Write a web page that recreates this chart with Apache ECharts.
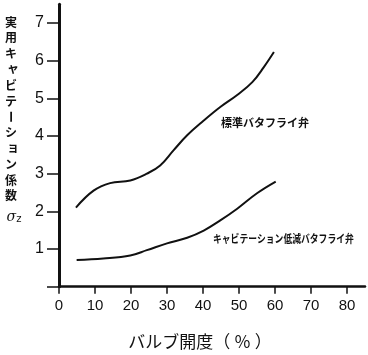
<!DOCTYPE html>
<html><head><meta charset="utf-8">
<script src="https://cdn.jsdelivr.net/npm/echarts@6/dist/echarts.min.js"></script>
<style>html,body{margin:0;padding:0;background:#fff}#c{width:368px;height:355px}</style>
</head><body><div id="c"></div>
<script>
const xTicks = [0,10,20,30,40,50,60,70,80];
const yTicks = [1,2,3,4,5,6,7];
const standardX = [4.7, 9.6, 14.2, 19.8, 24.4, 28.1, 31.8, 35.6, 40.2, 44.8, 49.5, 53.7, 56.9, 59.7];
const standardY = [2.10, 2.55, 2.75, 2.82, 3.00, 3.22, 3.62, 4.02, 4.41, 4.77, 5.09, 5.43, 5.83, 6.23];
const reducedX = [4.9, 12.3, 19.8, 24.4, 30.0, 35.6, 40.2, 44.8, 49.5, 55.0, 60.2];
const reducedY = [0.71, 0.75, 0.83, 0.97, 1.15, 1.30, 1.49, 1.76, 2.07, 2.48, 2.79];
const seriesNames = ['標準バタフライ弁', 'キャビテーション低減バタフライ弁'];
const xTitle = 'バルブ開度（ ％ ）';
const yTitleChars = ['実','用','キ','ャ','ビ','テ','ー','シ','ョ','ン','係','数'];

const chart = echarts.init(document.getElementById('c'));
const font = '"Noto Sans CJK JP", sans-serif';
const pair = (xs, ys) => xs.map((x, i) => [x, ys[i]]);

const graphics = [];
yTitleChars.forEach((ch, i) => {
  const small = (ch === 'ャ' || ch === 'ョ');
  const isBar = ch === 'ー';
  graphics.push({
    type: 'text',
    x: 11 + (small ? 2 : 0), y: 22 + i * 15.8 - (small ? 1 : 0),
    rotation: isBar ? -Math.PI / 2 : 0,
    style: { text: ch, font: 'bold 12px ' + font, fill: '#111', align: 'center', verticalAlign: 'middle' }
  });
});
graphics.push({
  type: 'text', x: 14, y: 217,
  style: {
    text: '{s|σ}{z|z}', align: 'center', verticalAlign: 'middle',
    rich: { s: { font: 'italic 14px "DejaVu Serif", serif', fill: '#111' }, z: { font: '10px "DejaVu Sans", sans-serif', fill: '#111', padding: [4,0,0,0] } }
  }
});
graphics.push({
  type: 'text', x: 221, y: 123,
  style: { text: seriesNames[0], font: 'bold 11px ' + font, fill: '#111', verticalAlign: 'middle' }
});
graphics.push({
  type: 'text', x: 213, y: 239, scaleX: 0.8,
  style: { text: seriesNames[1], font: 'bold 11px ' + font, fill: '#111', verticalAlign: 'middle' }
});

chart.setOption({
  animation: false,
  backgroundColor: '#fff',
  grid: { left: 59, right: 3, top: 4.2, bottom: 68.3 },
  xAxis: {
    type: 'value', min: 0, max: 85, interval: 10,
    name: xTitle, nameLocation: 'middle', nameGap: 46,
    nameTextStyle: { fontFamily: font, fontSize: 17, color: '#111', padding: [0, 24, 0, 0] },
    axisLine: { lineStyle: { color: '#111', width: 2.5 } },
    axisTick: { show: true, length: 7, lineStyle: { color: '#111', width: 1.5 } },
    axisLabel: { fontFamily: 'Liberation Sans, sans-serif', fontSize: 15, color: '#111', margin: 12, showMaxLabel: false,
      formatter: v => xTicks.includes(v) ? String(v) : '' },
    splitLine: { show: false }
  },
  yAxis: {
    type: 'value', min: 0, max: 7.5, interval: 1,
    axisLine: { show: true, lineStyle: { color: '#111', width: 3 } },
    axisTick: { show: true, length: 12, lineStyle: { color: '#111', width: 1.5 } },
    axisLabel: { fontFamily: 'Liberation Sans, sans-serif', fontSize: 16, color: '#111', margin: 15, showMaxLabel: false,
      formatter: v => yTicks.includes(v) ? String(v) : '' },
    splitLine: { show: false }
  },
  series: [
    { name: seriesNames[0], type: 'line', smooth: 0.4, symbol: 'none', data: pair(standardX, standardY),
      lineStyle: { color: '#111', width: 2 } },
    { name: seriesNames[1], type: 'line', smooth: 0.4, symbol: 'none', data: pair(reducedX, reducedY),
      lineStyle: { color: '#111', width: 2 } }
  ],
  graphic: graphics
});
</script></body></html>
